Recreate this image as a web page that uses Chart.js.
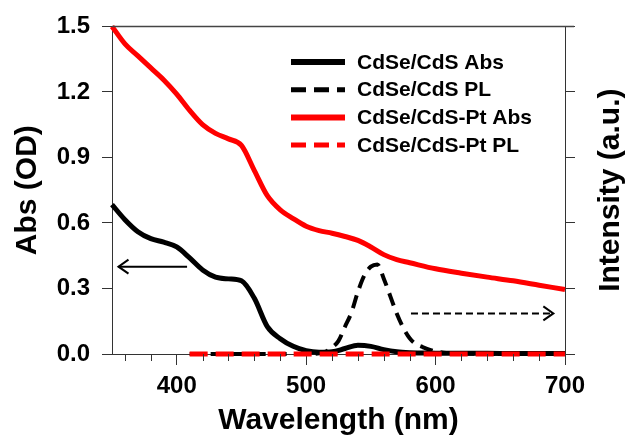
<!DOCTYPE html>
<html>
<head>
<meta charset="utf-8">
<script src="https://cdn.jsdelivr.net/npm/chart.js@4"></script>
<style>
  html, body { margin: 0; padding: 0; background: #fff; }
  #wrap { width: 630px; height: 437px; }
</style>
</head>
<body>
<div id="wrap"><canvas id="specChart" width="630" height="437"></canvas></div>
<script>
// ---- data ----
const absWl = [350, 360, 370, 380, 390, 400, 410, 420, 430, 440, 450, 460, 470, 480, 490, 500,
               510, 520, 530, 540, 550, 560, 570, 580, 600, 620, 640, 660, 680, 700];
const cdsAbs = [0.684, 0.615, 0.560, 0.528, 0.512, 0.490, 0.440, 0.385, 0.352, 0.344, 0.335, 0.255,
                0.125, 0.070, 0.035, 0.015, 0.008, 0.010, 0.025, 0.040, 0.035, 0.020, 0.010, 0.006,
                0.004, 0.003, 0.003, 0.002, 0.002, 0.002];
const ptAbs = [1.500, 1.420, 1.365, 1.310, 1.255, 1.190, 1.115, 1.050, 1.010, 0.985, 0.955, 0.840,
               0.725, 0.660, 0.620, 0.585, 0.565, 0.553, 0.538, 0.520, 0.490, 0.455, 0.432, 0.418,
               0.390, 0.370, 0.352, 0.335, 0.315, 0.295];

const plWl = [410, 430, 450, 470, 490, 500, 510, 515, 520, 525, 530, 535, 540, 545, 550, 555,
              560, 565, 570, 575, 580, 585, 590, 600, 610, 620, 640, 660, 680, 700];
const cdsPL = [0, 0, 0, 0, 0, 0, 0.003, 0.010, 0.030, 0.060, 0.125, 0.190, 0.285, 0.360, 0.400, 0.410,
               0.345, 0.265, 0.185, 0.120, 0.072, 0.045, 0.032, 0.012, 0.004, 0.002, 0, 0, 0, 0];
const ptPL = [0, 0, 0, 0, 0, 0, 0, 0, 0, 0, 0, 0, 0, 0, 0, 0,
              0, 0, 0, 0, 0, 0, 0, 0, 0, 0, 0, 0, 0, 0];

const seriesLabels = ['CdSe/CdS Abs', 'CdSe/CdS PL', 'CdSe/CdS-Pt Abs', 'CdSe/CdS-Pt PL'];
const xMajorTicks = [400, 500, 600, 700];
const xMinorTicks = [360, 380, 420, 440, 460, 480, 520, 540, 560, 580, 620, 640, 660, 680];
const yTicks = [0, 0.3, 0.6, 0.9, 1.2, 1.5];

const FONT = "'Liberation Sans', Arial, sans-serif";
const toPts = (xs, ys) => xs.map((x, i) => ({ x: x, y: ys[i] }));

const lineStyles = [
    { color: '#000', width: 5, dash: [] },
    { color: '#000', width: 4, dash: [13, 8] },
    { color: '#ff0000', width: 5, dash: [] },
    { color: '#ff0000', width: 5, dash: [18, 8] }
];

// frame, minor ticks, arrows, legend and right title
const decorPlugin = {
    id: 'decor',
    afterDraw(chart) {
        const ctx = chart.ctx;
        const a = chart.chartArea;
        const xs = chart.scales.x, ys = chart.scales.y;
        ctx.save();
        // top frame line
        ctx.strokeStyle = '#444';
        ctx.lineWidth = 1.5;
        ctx.beginPath();
        ctx.moveTo(a.left, a.top);
        ctx.lineTo(a.right + 9, a.top);
        ctx.stroke();
        // minor x ticks
        ctx.strokeStyle = '#333';
        ctx.lineWidth = 1;
        xMinorTicks.forEach(v => {
            const px = Math.round(xs.getPixelForValue(v)) + 0.5;
            ctx.beginPath();
            ctx.moveTo(px, a.bottom);
            ctx.lineTo(px, a.bottom + 7);
            ctx.stroke();
        });

        // arrows
        function arrow(x0, x1, y, dash) {
            const p0 = xs.getPixelForValue(x0), p1 = xs.getPixelForValue(x1);
            const py = ys.getPixelForValue(y);
            const dir = Math.sign(p1 - p0);
            ctx.strokeStyle = '#000';
            ctx.lineWidth = 2;
            ctx.setLineDash(dash);
            ctx.beginPath();
            ctx.moveTo(p0, py);
            ctx.lineTo(p1, py);
            ctx.stroke();
            ctx.setLineDash([]);
            ctx.beginPath();
            ctx.moveTo(p1 - dir * 10, py - 7);
            ctx.lineTo(p1, py);
            ctx.lineTo(p1 - dir * 10, py + 7);
            ctx.stroke();
        }
        arrow(408, 355, 0.40, []);
        arrow(581, 691, 0.186, [7, 4]);

        // legend
        ctx.font = 'bold 21px ' + FONT;
        ctx.textBaseline = 'middle';
        ctx.fillStyle = '#000';
        seriesLabels.forEach((lab, i) => {
            const y = 62 + i * 27.7;
            const st = lineStyles[i];
            ctx.strokeStyle = st.color;
            ctx.lineWidth = st.dash.length ? 5 : 6;
            ctx.setLineDash(st.dash.length ? [15, 8] : []);
            ctx.beginPath();
            ctx.moveTo(291, y);
            ctx.lineTo(345, y);
            ctx.stroke();
            ctx.setLineDash([]);
            ctx.fillText(lab, 357, y + 1);
        });

        // right axis title, reading bottom to top
        ctx.font = 'bold 30px ' + FONT;
        ctx.textAlign = 'center';
        ctx.translate(611, (a.top + a.bottom) / 2);
        ctx.rotate(-Math.PI / 2);
        ctx.fillText('Intensity (a.u.)', 0, 0);
        ctx.restore();
    }
};

const tickFont = { family: FONT, size: 24, weight: 'bold' };
const titleFont = { family: FONT, size: 30, weight: 'bold', lineHeight: 1 };

new Chart(document.getElementById('specChart'), {
    type: 'line',
    data: {
        datasets: [
            { label: seriesLabels[0], data: toPts(absWl, cdsAbs), yAxisID: 'y', order: 3 },
            { label: seriesLabels[1], data: toPts(plWl, cdsPL), yAxisID: 'y2', order: 2 },
            { label: seriesLabels[2], data: toPts(absWl, ptAbs), yAxisID: 'y', order: 1 },
            { label: seriesLabels[3], data: toPts(plWl, ptPL), yAxisID: 'y2', order: 0 }
        ].map((d, i) => Object.assign(d, {
            borderColor: lineStyles[i].color,
            borderWidth: lineStyles[i].width,
            borderDash: lineStyles[i].dash,
            pointRadius: 0,
            fill: false,
            clip: false,
            cubicInterpolationMode: 'monotone'
        }))
    },
    options: {
        responsive: false,
        animation: false,
        layout: { padding: { top: 23, left: 0, right: 0, bottom: 0 } },
        plugins: {
            legend: { display: false },
            tooltip: { enabled: false }
        },
        scales: {
            x: {
                type: 'linear',
                min: 350,
                max: 700,
                afterBuildTicks: (s) => { s.ticks = xMajorTicks.map(v => ({ value: v })); },
                afterFit: (s) => { s.height = 83; },
                ticks: { font: tickFont, color: '#000', padding: 7, maxRotation: 0 },
                grid: { drawOnChartArea: false, tickLength: 11, color: '#333' },
                border: { color: '#333', width: 1 },
                title: { display: true, text: 'Wavelength (nm)', font: titleFont, color: '#000',
                         padding: { top: 0, bottom: 1 } }
            },
            y: {
                position: 'left',
                min: 0,
                max: 1.5,
                afterBuildTicks: (s) => { s.ticks = yTicks.map(v => ({ value: v })); },
                afterFit: (s) => { s.width = 112; },
                ticks: { font: tickFont, color: '#000', padding: 12, callback: (v) => v.toFixed(1) },
                grid: { drawOnChartArea: false, tickLength: 10, color: '#333' },
                border: { color: '#333', width: 1 },
                title: { display: true, text: 'Abs (OD)', font: titleFont, color: '#000',
                         padding: { top: 13, bottom: 0 } }
            },
            y2: {
                position: 'right',
                min: 0,
                max: 1.5,
                afterBuildTicks: (s) => { s.ticks = yTicks.map(v => ({ value: v })); },
                afterFit: (s) => { s.width = 65; },
                ticks: { display: false },
                grid: { drawOnChartArea: false, tickLength: 10, color: '#333' },
                border: { color: '#333', width: 1 }
            }
        }
    },
    plugins: [decorPlugin]
});
</script>
</body>
</html>
